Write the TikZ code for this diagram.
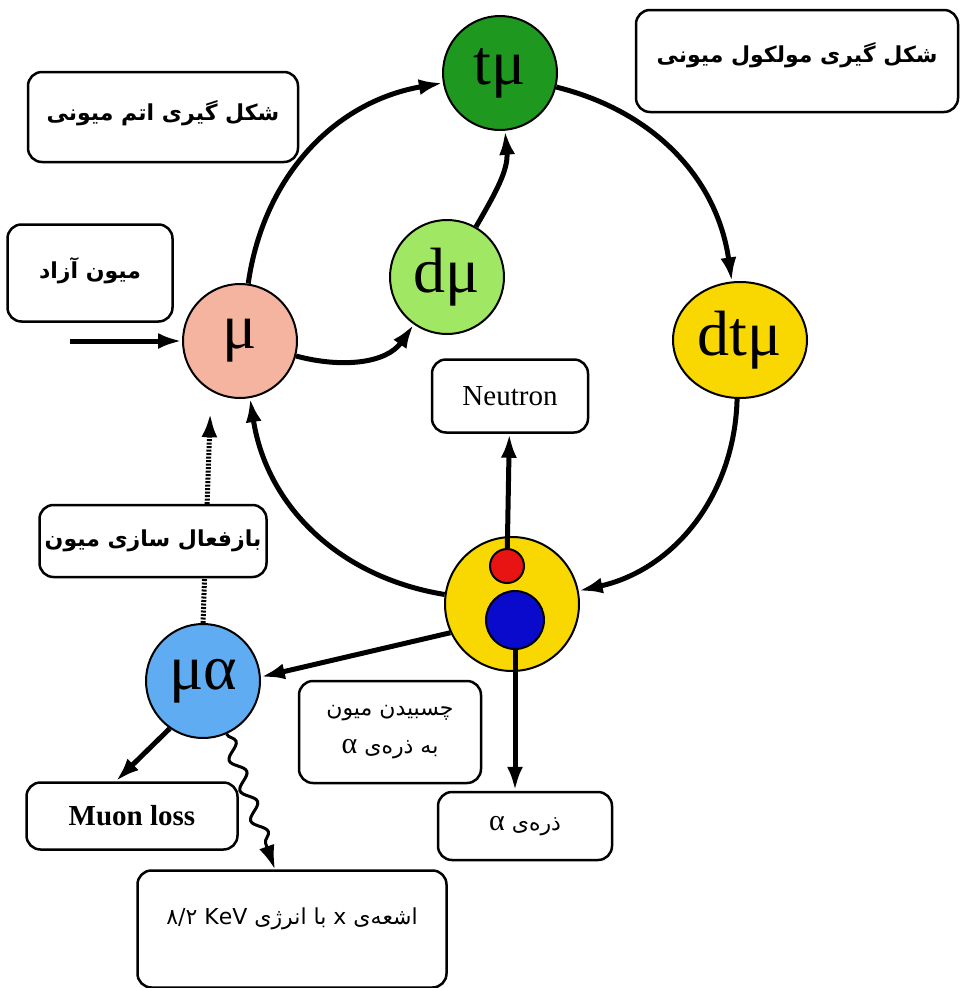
\documentclass[tikz,border=0pt]{standalone}
\usepackage{fontspec}
\setmainfont{Liberation Serif}
\newfontfamily\fa[Script=Arabic]{DejaVu Sans}
\usetikzlibrary{arrows.meta,shapes.geometric,decorations.pathmorphing}
\TeXXeTstate=1
\definecolor{mucol}{RGB}{245,180,160}
\definecolor{dmucol}{RGB}{160,232,100}
\definecolor{tmucol}{RGB}{30,152,30}
\definecolor{yel}{RGB}{248,216,0}
\definecolor{redcol}{RGB}{232,20,20}
\definecolor{bluecol}{RGB}{10,10,205}
\definecolor{macol}{RGB}{95,172,242}
\def\fsz#1{\fontsize{#1}{#1}\selectfont}
\def\rtl#1{\beginR #1\endR}
\def\alfa{\beginL{\rmfamily\fsz{30}α}\endL}

\begin{document}
\begin{tikzpicture}[x=1pt,y=-1pt,
    ball/.style={circle,draw,line width=2pt,inner sep=0pt,minimum size=114pt,font=\fsz{64}},
    note/.style={draw,rounded corners=14pt,fill=white,line width=2.5pt,inner sep=0pt},
    fabold/.style={font=\fa\bfseries\fsz{22}},
    faplain/.style={font=\fa\fontsize{22}{38}\selectfont},
    flow/.style={line width=5pt,-{Latex[length=24pt,width=16pt]}}]
\useasboundingbox (0,0) rectangle (960,988);

% particles
\node[ball,fill=mucol] (mu) at (240,341) {μ};
\node[ball,fill=dmucol] (dmu) at (447,277) {dμ};
\node[ball,fill=tmucol] (tmu) at (500,73) {tμ};
\node[ball,ellipse,fill=yel,minimum width=134pt,minimum height=116pt] (dtmu) at (740,340) {dtμ};
\node[ball,fill=yel,minimum size=134pt] (fusion) at (512,604) {};
\node[circle,draw,line width=2pt,fill=redcol,inner sep=0pt,minimum size=34pt] (red) at (507,566) {};
\node[circle,draw,line width=2pt,fill=bluecol,inner sep=0pt,minimum size=58pt] (blue) at (515,620) {};
\node[ball,fill=macol] (mualpha) at (203,681) {μα};

% labels
\node[note,fabold,minimum width=270pt,minimum height=90pt,text depth=14pt] (atom) at (163,117) {\rtl{شکل گیری اتم میونی}};
\node[note,fabold,minimum width=322pt,minimum height=102pt,text depth=17pt] (molecule) at (797,61) {\rtl{شکل گیری مولکول میونی}};
\node[note,fabold,minimum width=165pt,minimum height=97pt,text depth=11pt] (free) at (90,273) {\rtl{میون آزاد}};
\node[note,font=\fsz{29},minimum width=156pt,minimum height=73pt] (neutron) at (510,396) {Neutron};
\node[note,faplain,align=center,minimum width=182pt,minimum height=102pt] (attach) at (390,732)
    {\rtl{چسبیدن میون}\\\rtl{به ذره‌ی \alfa}};
\node[note,faplain,minimum width=174pt,minimum height=68pt] (alphab) at (525,826) {\rtl{ذره‌ی \alfa}};
\node[note,font=\bfseries\fsz{29},minimum width=211pt,minimum height=67pt] (loss) at (132,816) {Muon loss};
\node[note,faplain,minimum width=309pt,minimum height=117pt,text depth=26pt] (xray) at (292,929)
    {\rtl{اشعه‌ی \beginL x\endL{} با انرژی \beginL KeV\endL{} \beginL ۸/۲\endL}};

% cycle
\coordinate (src) at (70,341);
\draw[flow] (src) -- (mu);
\draw[flow] (mu) to[bend left=36] (tmu);
\draw[flow] (tmu) to[bend left=34] (dtmu);
\draw[flow] (dtmu) to[bend left=38] (fusion);
\draw[flow] (fusion) to[bend left=36] (mu);
\draw[flow] (mu) to[out=-15,in=235] (dmu);
\draw[flow] (dmu) to[out=60,in=-85] (tmu);

% products
\draw[flow] (red) -- (neutron);
\draw[flow] (blue) -- (blue |- alphab.north);
\draw[flow] (fusion.205) -- (mualpha.4);
\draw[flow] (mualpha.235) -- (loss.115);
\draw[flow,line width=3pt,decorate,decoration={snake,amplitude=6.5pt,segment length=32pt,post length=18pt}]
    (mualpha.-66) -- (xray.106);
\draw[flow,dash pattern=on 2pt off 1.5pt,shorten >=22pt] (mualpha.north) -- (mu.240);
\node[note,fabold,minimum width=227pt,minimum height=72pt] (react) at (153,541) {\rtl{بازفعال سازی میون}};
\end{tikzpicture}
\end{document}
